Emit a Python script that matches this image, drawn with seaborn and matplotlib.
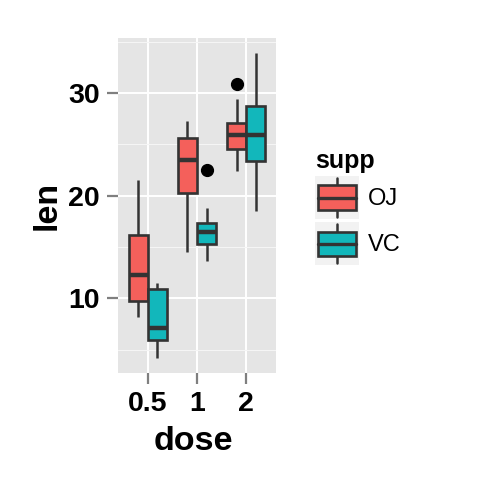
import matplotlib
matplotlib.use("Agg")
import matplotlib.pyplot as plt
import seaborn as sns
import pandas as pd
from matplotlib.legend_handler import HandlerBase
from matplotlib.patches import Rectangle, Patch
from matplotlib.lines import Line2D
from matplotlib.ticker import FixedLocator

# ToothGrowth observations (len) per supplement and dose
doses = ["0.5", "1", "2"]
supps = ["OJ", "VC"]
oj_05 = [15.2, 21.5, 17.6, 9.7, 14.5, 10.0, 8.2, 9.4, 16.5, 9.7]
oj_1 = [19.7, 23.3, 23.6, 26.4, 20.0, 25.2, 25.8, 21.2, 14.5, 27.3]
oj_2 = [25.5, 26.4, 22.4, 24.5, 24.8, 30.9, 26.4, 27.3, 29.4, 23.0]
vc_05 = [4.2, 11.5, 7.3, 5.8, 6.4, 10.0, 11.2, 11.2, 5.2, 7.0]
vc_1 = [16.5, 16.5, 15.2, 17.3, 22.5, 17.3, 13.6, 14.5, 18.8, 15.5]
vc_2 = [23.6, 18.5, 33.9, 25.5, 26.4, 32.5, 26.7, 21.5, 23.3, 29.5]
y_ticks = [10, 20, 30]
y_minor = [5, 15, 25, 35]
colors = {"OJ": "#F4605B", "VC": "#12B7BB"}

groups = {("OJ", "0.5"): oj_05, ("OJ", "1"): oj_1, ("OJ", "2"): oj_2,
          ("VC", "0.5"): vc_05, ("VC", "1"): vc_1, ("VC", "2"): vc_2}
rows = []
for (s, d), vals in groups.items():
    for v in vals:
        rows.append({"supp": s, "dose": d, "len": v})
df = pd.DataFrame(rows)

sns.set_style("white")
plt.rcParams["font.family"] = ["Liberation Sans", "DejaVu Sans"]
plt.rcParams["text.color"] = "black"

fig = plt.figure(figsize=(4.8, 4.8), dpi=100)
ax = fig.add_axes([118/480, 1-373/480, 158/480, 335/480])
ax.set_facecolor("#E5E5E5")

edge = "#333333"
sns.boxplot(data=df, x="dose", y="len", hue="supp", order=doses, hue_order=supps,
            palette=colors, saturation=1, width=0.77, gap=0, linecolor=edge,
            linewidth=1.9, showcaps=False, whis=1.5, legend=False,
            whiskerprops={"linewidth": 1.8},
            medianprops={"linewidth": 3.2, "color": edge},
            flierprops={"marker": "o", "markerfacecolor": "black",
                        "markeredgecolor": "black", "markersize": 8.5},
            ax=ax)

ax.set_xlim(-0.6, 2.6)
ax.set_ylim(2.715, 35.385)
ax.yaxis.set_major_locator(FixedLocator(y_ticks))
ax.yaxis.set_minor_locator(FixedLocator(y_minor))
ax.set_axisbelow(True)
ax.grid(which="major", color="white", linewidth=1.4)
ax.grid(which="minor", axis="y", color="#F5F5F5", linewidth=0.8)
for s in ax.spines.values():
    s.set_visible(False)
ax.tick_params(which="major", length=8, width=1.6, color="#7F7F7F",
               labelsize=20.5, pad=5, bottom=True, left=True)
ax.tick_params(which="minor", length=0)
for lab in ax.get_xticklabels() + ax.get_yticklabels():
    lab.set_fontweight("bold")
    lab.set_color("black")
ax.set_xlabel("")
ax.set_ylabel("")
fig.text(193/480, 1-450/480, "dose", fontsize=24.5, fontweight="bold",
         ha="center", va="baseline", color="black")
fig.text(47/480, 1-205/480, "len", fontsize=24.5, fontweight="bold",
         rotation=90, ha="center", va="center", color="black")


class BoxHandler(HandlerBase):
    def create_artists(self, legend, orig_handle, xdescent, ydescent,
                       width, height, fontsize, trans):
        x0, y0 = -xdescent, -ydescent
        fc = orig_handle.get_facecolor()
        bg = Rectangle((x0, y0), width, height, facecolor="#F2F2F2",
                       edgecolor="none", transform=trans)
        cx = x0 + width / 2
        wl = Line2D([cx, cx], [y0 + 0.05*height, y0 + 0.95*height],
                    color=edge, linewidth=1.8, transform=trans)
        box = Rectangle((x0 + 0.07*width, y0 + 0.22*height), 0.86*width,
                        0.56*height, facecolor=fc, edgecolor=edge,
                        linewidth=1.9, transform=trans)
        med = Line2D([x0 + 0.07*width, x0 + 0.93*width],
                     [y0 + 0.5*height, y0 + 0.5*height],
                     color=edge, linewidth=2.4, transform=trans)
        return [bg, wl, box, med]


handles = [Patch(facecolor=colors[s]) for s in supps]
leg = fig.legend(handles, supps, loc="upper left",
                 bbox_to_anchor=(315/480, 1-149/480), frameon=False,
                 title="supp", alignment="left", fontsize=17,
                 title_fontproperties={"weight": "bold", "size": 18},
                 handler_map={Patch: BoxHandler()},
                 handlelength=1.85, handleheight=2.45, handletextpad=0.4,
                 labelspacing=0.12, borderpad=0, borderaxespad=0,
                 labelcolor="black")

fig.savefig("out.png", dpi=100)
